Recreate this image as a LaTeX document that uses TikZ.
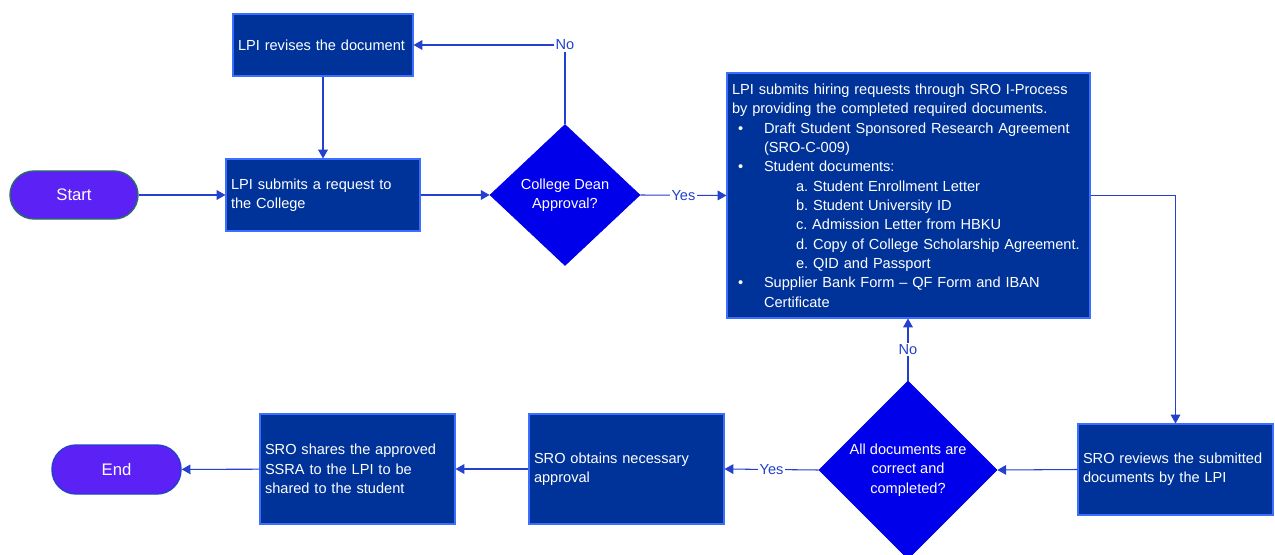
\documentclass[tikz,border=0pt]{standalone}
\usepackage{fontspec}
\setmainfont{Liberation Sans}
\usepackage{tikz}
\usetikzlibrary{arrows.meta,positioning,shapes.geometric}
\definecolor{cBox}{RGB}{0,51,153}
\definecolor{cEdge}{RGB}{60,110,255}
\definecolor{cDec}{RGB}{0,0,235}
\definecolor{cTerm}{RGB}{92,33,245}
\definecolor{cTermEdge}{RGB}{40,110,100}
\definecolor{cLine}{RGB}{35,65,205}
\newcommand{\blt}{\makebox[0.64cm][l]{\hspace{0.12cm}\textbullet}}
\newcommand{\subi}{\hspace*{1.28cm}}
\frenchspacing

\begin{document}
\begin{tikzpicture}[
  box/.style={draw=cEdge, fill=cBox, text=white, font=\fontsize{8.3}{11}\selectfont, align=left, inner sep=0.1cm, line width=0.6pt},
  dec/.style={diamond, draw=cDec, fill=cDec, text=white, font=\fontsize{8.3}{11}\selectfont, align=center, inner sep=0pt},
  term/.style={fill=cTerm, text=white, rounded corners=0.48cm, minimum width=2.56cm, minimum height=0.96cm, line width=0.8pt, font=\fontsize{9.5}{11}\selectfont},
  arr/.style={draw=cLine, line width=0.6pt, -{Triangle[width=5.5pt,length=5pt]}},
  lbl/.style={fill=white, text=cLine, font=\fontsize{8.3}{10}\selectfont, inner sep=1pt}]
\useasboundingbox (0,0) rectangle (25.5,11.08);
% top row
\node[term, draw=cTermEdge] (start) at (1.48,7.18) {Start};
\node[box, minimum width=3.6cm, minimum height=1.24cm, text width=3.4cm] (revise) at (6.46,10.18) {LPI revises the document};
\node[box, minimum width=3.88cm, minimum height=1.44cm, text width=3.68cm] (submit) at (6.46,7.18) {LPI submits a request to\\the College};
\node[dec, minimum width=3.0cm, minimum height=2.82cm] (dean) at (11.30,7.18) {College Dean\\Approval?};
\node[box, minimum width=7.26cm, minimum height=4.9cm, text width=7.06cm] (hire) at (18.17,7.17) {%
LPI submits hiring requests through SRO I-Process\\
by providing the completed required documents.\\
\blt Draft Student Sponsored Research Agreement\\
\hspace*{0.64cm}(SRO-C-009)\\
\blt Student documents:\\
\subi a. Student Enrollment Letter\\
\subi b. Student University ID\\
\subi c. Admission Letter from HBKU\\
\subi d. Copy of College Scholarship Agreement.\\
\subi e. QID and Passport\\
\blt Supplier Bank Form -- QF Form and IBAN\\
\hspace*{0.64cm}Certificate};
% bottom row
\node[box, minimum width=3.9cm, minimum height=1.82cm, text width=3.7cm] (review) at (23.51,1.69) {SRO reviews the submitted\\documents by the LPI};
\node[dec, minimum width=3.56cm, minimum height=3.56cm] (check) at (18.16,1.68) {All documents are\\correct and\\completed?};
\node[box, minimum width=3.9cm, minimum height=2.2cm, text width=3.7cm] (obtain) at (12.53,1.70) {SRO obtains necessary\\approval};
\node[box, minimum width=3.9cm, minimum height=2.2cm, text width=3.7cm] (share) at (7.15,1.70) {SRO shares the approved\\SSRA to the LPI to be\\shared to the student};
\node[term, draw=cLine, minimum width=2.58cm, minimum height=0.98cm] (fin) at (2.33,1.69) {End};
% connectors
\draw[arr] (start) -- (submit);
\draw[arr] (revise) -- (submit);
\draw[arr] (submit) -- (dean);
\draw[arr] (dean.north) |- node[lbl] {No} (revise.east);
\draw[arr] (dean.east) -- node[lbl] {Yes} (hire.west);
\draw[arr] (hire.east) -| (review.north);
\draw[arr] (review.west) -- (check.east);
\draw[arr] (check.north) -- node[lbl] {No} (check.north |- hire.south);
\draw[arr] (check.west) -- node[lbl] {Yes} (obtain.east);
\draw[arr] (obtain) -- (share);
\draw[arr] (share) -- (fin);
\end{tikzpicture}
\end{document}
